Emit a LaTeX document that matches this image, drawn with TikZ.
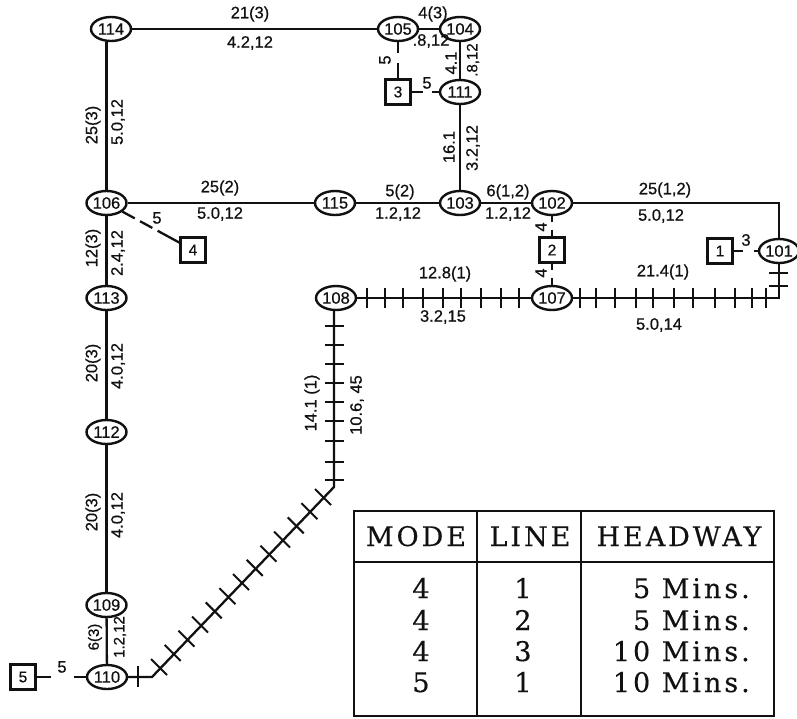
\documentclass[tikz,border=0pt]{standalone}
\usepackage{fontspec}
\usetikzlibrary{shapes.geometric,calc}
\setmainfont[FakeBold=0.6]{Liberation Sans}
\newfontfamily\tabfont[LetterSpace=11,FakeBold=0.4]{DejaVu Serif}
\definecolor{ink}{HTML}{111111}
\tikzset{
  every node/.style={text=ink},
  stn/.style={draw=ink,ellipse,line width=2.4pt,minimum width=40pt,minimum height=24pt,inner sep=0pt,font=\fontsize{16.5}{17}\selectfont},
  zone/.style={draw=ink,rectangle,line width=2.3pt,minimum width=25pt,minimum height=25pt,inner sep=0pt,font=\fontsize{15.5}{16}\selectfont},
  link/.style={draw=ink,line width=2.3pt},
  walk/.style={draw=ink,line width=2.3pt},
  tick/.style={draw=ink,line width=2pt},
  lbl/.style={inner sep=0pt,font=\fontsize{16.5}{17}\selectfont},
  vlbl/.style={lbl,rotate=90},
  small/.style={vlbl,font=\fontsize{15}{16}\selectfont},
  grid/.style={draw=ink,line width=2pt},
  tabtxt/.style={inner sep=0pt,anchor=base,font=\tabfont\fontsize{27}{28}\selectfont},
  tabrt/.style={tabtxt,anchor=base east},
}
\begin{document}
\begin{tikzpicture}[x=1pt,y=-1pt]
\useasboundingbox (0,0) rectangle (797,718);
% stations
\node[stn] (114) at (111,29) {114};
\node[stn] (105) at (398,29) {105};
\node[stn] (104) at (460,29) {104};
\node[stn] (111) at (460,92) {111};
\node[stn] (103) at (460,203) {103};
\node[stn] (115) at (335,203) {115};
\node[stn] (106) at (106.5,203) {106};
\node[stn] (102) at (552,203) {102};
\node[stn] (107) at (552,298) {107};
\node[stn] (101) at (779,251) {101};
\node[stn] (108) at (336,298) {108};
\node[stn] (113) at (106.5,298) {113};
\node[stn] (112) at (106.5,432) {112};
\node[stn] (109) at (106.5,605) {109};
\node[stn] (110) at (107,677) {110};
% zones
\node[zone] (z3) at (398,92) {3};
\node[zone] (z2) at (552,250) {2};
\node[zone] (z1) at (720,251) {1};
\node[zone] (z4) at (193,250) {4};
\node[zone] (z5) at (23,677) {5};
% corners
\coordinate (c1) at (334,487);
\coordinate (c2) at (152,677);
% plain links
\draw[link] (114) -- (105);
\draw[link] (105) -- (104);
\draw[link] (104) -- (111);
\draw[link] (111) -- (103);
\draw[link] (106) -- (115);
\draw[link] (115) -- (103);
\draw[link] (103) -- (102);
\draw[link] (102) -| (101);
\draw[link] (106) -- (106 |- 114.south);
\draw[link] (106) -- (113);
\draw[link] (113) -- (112);
\draw[link] (112) -- (109);
\draw[link] (109) -- (110);
% ticked links
\draw[link] (108) -- (107);
\draw[link] (107) -| (101);
\draw[link] (108.south -| c1) -- (c1) -- (c2) -- (110);
\foreach \x in {367,385,403,423,443,461,481,501,519,580,596,615,636,653,674,693,715,735,752,766}
  \draw[tick] (\x,288) -- (\x,308);
\foreach \y in {273,286}
  \draw[tick] (769,\y) -- (788,\y);
\foreach \y in {326,345,364,383,402,421,441,462,480}
  \draw[tick] (325,\y) -- (344,\y);
\draw[tick] (138,666) -- (138,687);
\foreach \i in {0,...,12}
  \draw[tick] ({159+13.67*\i-8},{667-14.17*\i-8}) -- ({159+13.67*\i+8},{667-14.17*\i+8});
% walk links
\draw[walk,dash pattern=on 11pt off 10pt on 20pt] (105) -- (z3);
\draw[walk,dash pattern=on 11pt off 9pt on 20pt] (z3) -- (111);
\draw[walk,dash pattern=on 6pt off 8pt on 20pt] (102) -- (z2);
\draw[walk,dash pattern=on 6pt off 8pt on 20pt] (z2) -- (107);
\draw[walk,dash pattern=on 9pt off 11pt on 20pt] (z1) -- (101);
\draw[walk,dash pattern=on 14pt off 6pt on 14pt off 6pt on 30pt] (106) -- (z4);
\draw[walk,dash pattern=on 14pt off 23pt on 20pt] (z5) -- (110);
% labels
\node[lbl] (l1) at (250,14) {21(3)};
\node[lbl] (l2) at (250,43) {4.2,12};
\node[lbl] (l3) at (433,14) {4(3)};
\node[lbl] (l4) at (431,41) {.8,12};
\node[vlbl] (l5) at (451,63) {4.1};
\node[small] (l6) at (473,60) {.8,12};
\node[vlbl] (l7) at (449,147) {16.1};
\node[vlbl] (l8) at (473,148) {3.2,12};
\node[vlbl] (l9) at (385,60) {5};
\node[lbl] (l10) at (427,83) {5};
\node[lbl] (l11) at (220,188) {25(2)};
\node[lbl] (l12) at (220,214) {5.0,12};
\node[lbl] (l13) at (400,192) {5(2)};
\node[lbl] (l14) at (398,214) {1.2,12};
\node[lbl] (l15) at (508,192) {6(1,2)};
\node[lbl] (l16) at (508,214) {1.2,12};
\node[lbl] (l17) at (665,190) {25(1,2)};
\node[lbl] (l18) at (661,216) {5.0,12};
\node[vlbl] (l19) at (541,227) {4};
\node[vlbl] (l20) at (541,273) {4};
\node[lbl] (l21) at (746,240) {3};
\node[lbl] (l22) at (663,272) {21.4(1)};
\node[lbl] (l23) at (659,325) {5.0,14};
\node[lbl] (l24) at (445,274) {12.8(1)};
\node[lbl] (l25) at (443,317) {3.2,15};
\node[vlbl] (l26) at (312,403) {14.1 (1)};
\node[vlbl] (l27) at (357,405) {10.6, 45};
\node[lbl] (l28) at (62,667) {5};
\node[lbl] (l29) at (157,218) {5};
\node[vlbl] (l30) at (93,125) {25(3)};
\node[vlbl] (l31) at (118,122) {5.0,12};
\node[vlbl] (l32) at (93,248) {12(3)};
\node[vlbl] (l33) at (118,253) {2.4,12};
\node[vlbl] (l34) at (93,363) {20(3)};
\node[vlbl] (l35) at (118,366) {4.0,12};
\node[vlbl] (l36) at (93,512) {20(3)};
\node[vlbl] (l37) at (118,515) {4.0,12};
\node[small] (l38) at (95,637) {6(3)};
\node[small] (l39) at (120,637) {1.2,12};
% table
\draw[grid] (354,511) rectangle (774,716);
\draw[grid] (354,562) -- (774,562);
\draw[grid] (477,511) -- (477,716);
\draw[grid] (581,511) -- (581,716);
\node[tabtxt] (h1) at (416,546) {MODE};
\node[tabtxt] (h2) at (530,546) {LINE};
\node[tabtxt] (h3) at (679,546) {HEADWAY};
\node[tabtxt] (a1) at (421,598) {4};
\node[tabtxt] (a2) at (421,630) {4};
\node[tabtxt] (a3) at (421,661) {4};
\node[tabtxt] (a4) at (421,692) {5};
\node[tabtxt] (b1) at (523,598) {1};
\node[tabtxt] (b2) at (523,630) {2};
\node[tabtxt] (b3) at (523,661) {3};
\node[tabtxt] (b4) at (523,692) {1};
\node[tabrt] (d1) at (750,598) {5 Mins.};
\node[tabrt] (d2) at (750,630) {5 Mins.};
\node[tabrt] (d3) at (750,661) {10 Mins.};
\node[tabrt] (d4) at (750,692) {10 Mins.};
\end{tikzpicture}
\end{document}
